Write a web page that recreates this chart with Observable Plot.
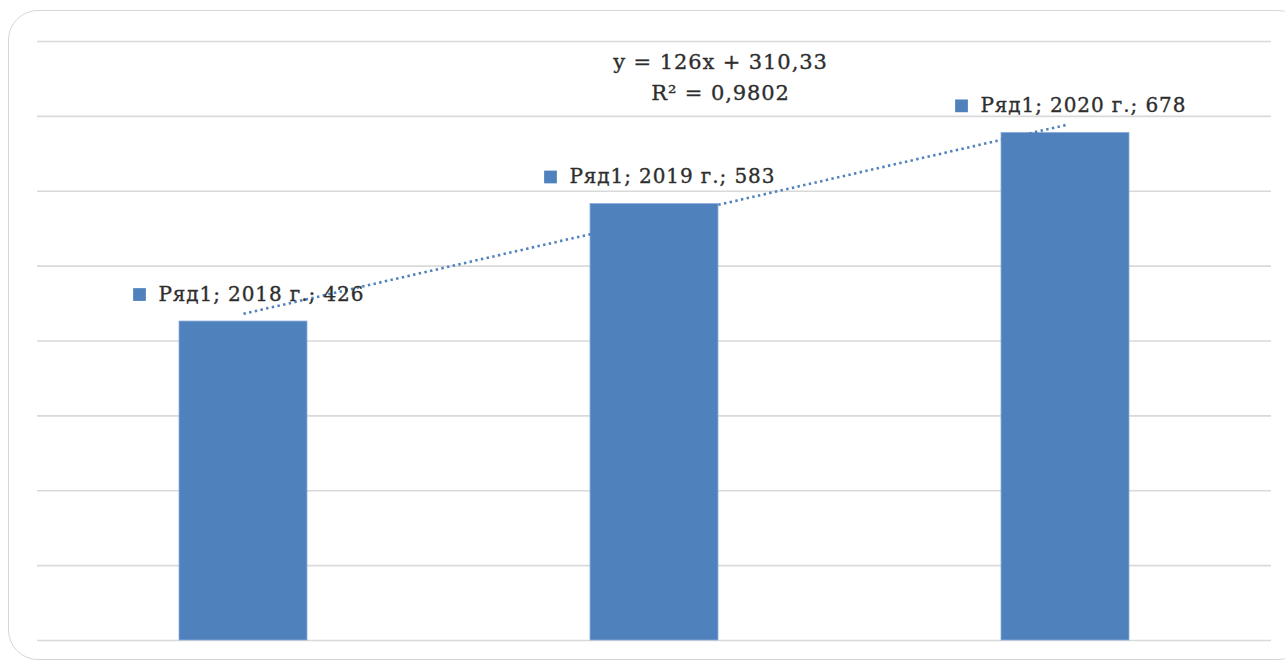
<!DOCTYPE html>
<html>
<head>
<meta charset="utf-8">
<script src="https://cdn.jsdelivr.net/npm/d3@7"></script>
<script src="https://cdn.jsdelivr.net/npm/@observablehq/plot@0.6"></script>
<style>
  html, body { margin: 0; padding: 0; background: #fff; overflow: hidden; }
  #wrap { position: relative; width: 1285px; height: 663px; }
  #frame { position: absolute; left: 8px; top: 10px; width: 1300px; height: 650px;
           border: 1.5px solid #d6d6d6; border-radius: 30px; box-sizing: border-box; }
  #chart { position: absolute; left: 0; top: 0; }
</style>
</head>
<body>
<div id="wrap"><div id="frame"></div><div id="chart"></div></div>
<script>
const seriesName = "Ряд1";
const categories = ["2018 г.", "2019 г.", "2020 г."];
const values = [426, 583, 678];
const trendValues = [436.33, 562.33, 688.33];
const equationLines = ["y = 126x + 310,33", "R² = 0,9802"];
const yTicks = [0, 100, 200, 300, 400, 500, 600, 700, 800];

const data = categories.map((c, i) => ({cat: c, value: values[i], trend: trendValues[i],
  label: `${seriesName}; ${c}; ${values[i]}`}));

const blue = "#4f81bd";
const font = "'DejaVu Serif', serif";
const textColor = "#2e2e2e";

const chart = Plot.plot({
  width: 1285,
  height: 663,
  marginLeft: 37,
  marginRight: 14,
  marginTop: 41,
  marginBottom: 23,
  style: {fontFamily: font, background: "transparent"},
  x: {domain: categories, paddingInner: 0.689, paddingOuter: 0.3445, axis: null},
  y: {domain: [0, 800], axis: null},
  marks: [
    Plot.ruleY(yTicks, {stroke: "#d9d9d9", strokeWidth: 1.6}),
    Plot.barY(data, {x: "cat", y: "value", fill: blue, stroke: "#8faedb", strokeWidth: 0.8}),
    Plot.line(data, {x: "cat", y: "trend", stroke: blue, strokeWidth: 2.6,
      strokeDasharray: "2.4 3.4", strokeLinecap: "butt"}),
    Plot.dot(data, {x: "cat", y: "value", symbol: "square", r: 7.2, fill: blue, stroke: "none",
      dx: -104, dy: -27}),
    Plot.text(data, {x: "cat", y: "value", text: "label", textAnchor: "start", dx: -85, dy: -27,
      fontSize: 20, fill: textColor, stroke: textColor, strokeWidth: 0.35, fontFamily: font}),
    Plot.text([equationLines.join("\n")], {frameAnchor: "top", dx: 66, dy: 5, lineAnchor: "top",
      lineHeight: 1.5, fontSize: 21, fill: textColor, stroke: textColor, strokeWidth: 0.35,
      fontFamily: font, textAnchor: "middle"})
  ]
});
chart.querySelectorAll("text").forEach(t => t.style.letterSpacing = "0.9px");
document.getElementById("chart").appendChild(chart);
</script>
</body>
</html>
